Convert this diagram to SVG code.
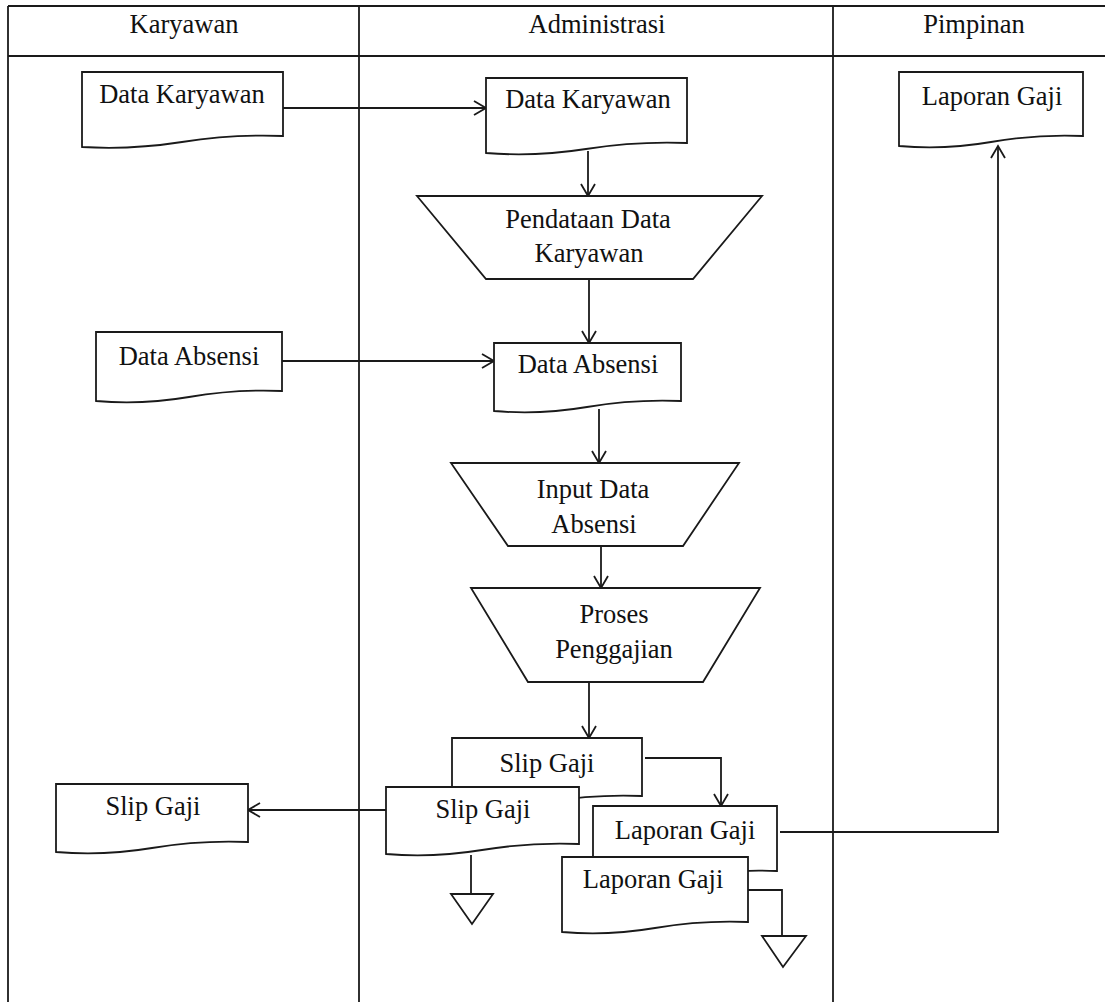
<svg xmlns="http://www.w3.org/2000/svg" width="1105" height="1002" viewBox="0 0 1105 1002">
<style>
text{font-family:"Liberation Serif","Times New Roman",serif;font-size:26.5px;fill:#111;text-anchor:middle}
.s{fill:#fff;stroke:#1a1a1a;stroke-width:1.8;stroke-linejoin:miter}
.f{fill:none;stroke:#1a1a1a;stroke-width:1.8}
.c{fill:none;stroke:#1a1a1a;stroke-width:1.8;marker-end:url(#a)}
</style>
<defs>
<marker id="a" markerUnits="userSpaceOnUse" markerWidth="16" markerHeight="18" refX="13" refY="8" orient="auto">
<path d="M1,1 L13,8 L1,15" fill="none" stroke="#1a1a1a" stroke-width="1.8"/>
</marker>
</defs>
<g id="frame">
<line class="f" x1="8" y1="6" x2="1105" y2="6"/>
<line class="f" x1="8" y1="56" x2="1105" y2="56" stroke-width="2.4"/>
<line class="f" x1="8" y1="6" x2="8" y2="1002"/>
<line class="f" x1="359" y1="6" x2="359" y2="1002"/>
<line class="f" x1="833" y1="6" x2="833" y2="1002"/>
<text x="184" y="33">Karyawan</text>
<text x="597" y="33">Administrasi</text>
<text x="974" y="33">Pimpinan</text>
</g>
<g id="connectors">
<line class="c" x1="283" y1="108" x2="486" y2="108"/>
<line class="c" x1="588" y1="151" x2="588" y2="196"/>
<line class="c" x1="589" y1="279" x2="589" y2="343"/>
<line class="c" x1="282" y1="361" x2="494" y2="361"/>
<line class="c" x1="599" y1="409" x2="599" y2="463"/>
<line class="c" x1="601" y1="546" x2="601" y2="588"/>
<line class="c" x1="589" y1="682" x2="589" y2="738"/>
<path class="c" d="M645,758 H721 V806"/>
<line class="c" x1="386" y1="810" x2="248" y2="810"/>
<path class="c" d="M780,832 H998 V146"/>
<path class="f" d="M471,855 V894"/>
<path class="f" d="M748,890 H782 V936"/>
</g>
<g id="n1"><path class="s" d="M82,72 H283 V136 Q233,134 182,142 T82,147 Z"/><text x="182" y="103">Data Karyawan</text></g>
<g id="n2"><path class="s" d="M486,78 H687 V143 Q637,141 586,149 T486,153 Z"/><text x="588" y="108">Data Karyawan</text></g>
<g id="n3"><path class="s" d="M417,196 H762 L693,279 H486 Z"/><text x="588" y="228">Pendataan Data</text><text x="589" y="262">Karyawan</text></g>
<g id="n4"><path class="s" d="M96,332 H282 V391 Q236,389 189,397 T96,401 Z"/><text x="189" y="365">Data Absensi</text></g>
<g id="n5"><path class="s" d="M494,343 H681 V401 Q634,399 587,407 T494,411 Z"/><text x="588" y="373">Data Absensi</text></g>
<g id="n6"><path class="s" d="M451,463 H739 L683,546 H508 Z"/><text x="593" y="498">Input Data</text><text x="594" y="533">Absensi</text></g>
<g id="n7"><path class="s" d="M471,588 H760 L703,682 H528 Z"/><text x="614" y="623">Proses</text><text x="614" y="658">Penggajian</text></g>
<g id="n8"><path class="s" d="M452,738 H642 V796 Q595,794 547,802 T452,806 Z"/><text x="547" y="772">Slip Gaji</text></g>
<g id="n9"><path class="s" d="M386,787 H579 V844 Q531,842 482,850 T386,854 Z"/><text x="483" y="818">Slip Gaji</text></g>
<g id="n10"><path class="s" d="M56,784 H248 V842 Q200,840 152,848 T56,852 Z"/><text x="153" y="815">Slip Gaji</text></g>
<g id="n11"><path class="s" d="M593,806 H777 V871 Q731,869 685,877 T593,881 Z"/><text x="685" y="839">Laporan Gaji</text></g>
<g id="n12"><path class="s" d="M562,857 H748 V922 Q702,920 655,928 T562,932 Z"/><text x="653" y="888">Laporan Gaji</text></g>
<g id="n13"><path class="s" d="M899,72 H1083 V136 Q1037,134 991,142 T899,146 Z"/><text x="992" y="105">Laporan Gaji</text></g>
<g id="t1"><path class="s" d="M451,894 H493 L472,924 Z"/></g>
<g id="t2"><path class="s" d="M762,936 H806 L783,967 Z"/></g>
</svg>
